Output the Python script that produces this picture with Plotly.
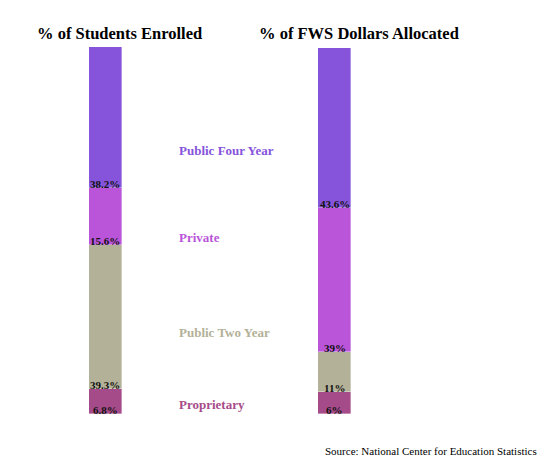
import plotly.graph_objects as go

# Data
bar_titles = ["% of Students Enrolled", "% of FWS Dollars Allocated"]
categories = ["Proprietary", "Public Two Year", "Private", "Public Four Year"]  # bottom to top
students = [6.8, 39.3, 15.6, 38.2]
dollars = [6, 11, 39, 43.6]
value_labels_students = ["6.8%", "39.3%", "15.6%", "38.2%"]
value_labels_dollars = ["6%", "11%", "39%", "43.6%"]
colors = ["#A64B8A", "#B3B198", "#BA55D9", "#8654DB"]
category_label_y = [2.5, 22.1, 48.0, 71.9]
source_text = "Source: National Center for Education Statistics"

FONT = "Liberation Serif"
xs = [0, 1]

W, H = 541, 457
T, B = 47, 43


def px_x(p):
    return p / W


def px_y(p):
    return (H - B - p) / (H - T - B)


fig = go.Figure()
for i, cat in enumerate(categories):
    fig.add_trace(go.Bar(
        x=xs, y=[students[i], dollars[i]], name=cat,
        marker=dict(color=colors[i], line=dict(color="rgba(255,255,255,0.45)", width=0.8)),
        width=0.1438, hoverinfo="skip", showlegend=False,
    ))

annotations = []
# value labels just above the lower edge of each segment
for series, labels, x in [(students, value_labels_students, 0), (dollars, value_labels_dollars, 1)]:
    base = 0.0
    for v, lab in zip(series, labels):
        annotations.append(dict(
            x=x, y=base, xref="x", yref="y", text="<b>" + lab + "</b>",
            showarrow=False, xanchor="center", yanchor="middle", yshift=4,
            font=dict(family=FONT, size=11, color="#111111"),
        ))
        base += v

# category labels
for cat, yv, col in zip(categories, category_label_y, colors):
    annotations.append(dict(
        x=px_x(177), xref="paper", y=yv, yref="y",
        text="<b>" + cat + "</b>", showarrow=False, xanchor="left", yanchor="middle",
        font=dict(family=FONT, size=13, color=col),
    ))

# titles
for cx, t in zip([119, 359], bar_titles):
    annotations.append(dict(
        x=px_x(cx), y=px_y(33), xref="paper", yref="paper", text="<b>" + t + "</b>",
        showarrow=False, xanchor="center", yanchor="middle",
        font=dict(family=FONT, size=16.5, color="black"),
    ))

# source
annotations.append(dict(
    x=px_x(539), y=px_y(451), xref="paper", yref="paper", text=source_text,
    showarrow=False, xanchor="right", yanchor="middle",
    font=dict(family=FONT, size=11, color="black"),
))

fig.update_layout(
    width=W, height=H,
    margin=dict(l=0, r=0, t=T, b=B, pad=0),
    barmode="stack", bargap=0,
    plot_bgcolor="white", paper_bgcolor="white",
    xaxis=dict(range=[-105 / 229.5, -105 / 229.5 + W / 229.5], visible=False, fixedrange=True),
    yaxis=dict(range=[0, 100], visible=False, fixedrange=True),
    annotations=annotations,
    font=dict(family=FONT),
)

fig.write_html(
    "out.html",
    config={"displayModeBar": False},
    post_script="document.body.style.margin='0';document.body.style.overflow='hidden';",
)
